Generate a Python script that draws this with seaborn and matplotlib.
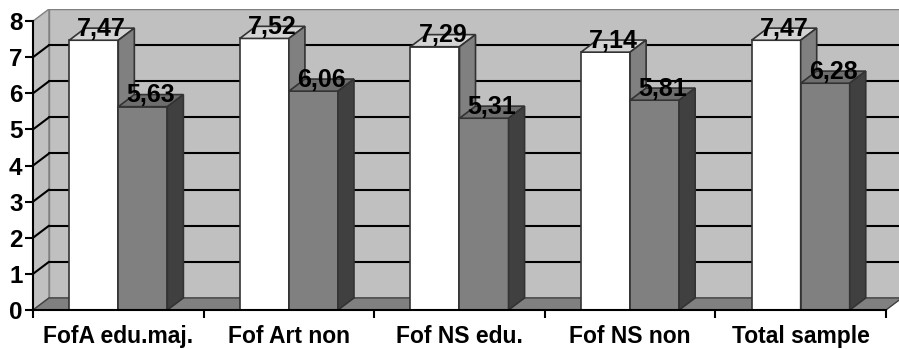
import numpy as np
import pandas as pd
import matplotlib
matplotlib.use("Agg")
import matplotlib.pyplot as plt
from matplotlib.patches import Polygon, Rectangle
import seaborn as sns

# data
groups = ["FofA edu.maj.", "Fof Art non", "Fof NS edu.", "Fof NS non", "Total sample"]
series = ["A", "B"]
values_a = [7.47, 7.52, 7.29, 7.14, 7.47]
values_b = [5.63, 6.06, 5.31, 5.81, 6.28]
yticks = [0, 1, 2, 3, 4, 5, 6, 7, 8]

df = pd.DataFrame({
    "group": groups * 2,
    "series": [series[0]] * 5 + [series[1]] * 5,
    "value": values_a + values_b,
})

sns.set_theme(style="white")
plt.rcParams["font.family"] = ["Liberation Sans", "DejaVu Sans"]
plt.rcParams["font.weight"] = "bold"
for key in ["text.color", "xtick.color", "ytick.color", "axes.labelcolor"]:
    plt.rcParams[key] = "black"

# depth offsets of the 3d look (category units / value units)
DX = 0.094
DY = 0.335
YMAX = 8

W, H = 899, 349
fig = plt.figure(figsize=(W / 100, H / 100), dpi=100)
ax = fig.add_axes([33 / W, 39 / H, 869 / W, 301 / H])
ax.set_facecolor("none")

# walls and floor
wall = "#c0c0c0"
ax.add_patch(Polygon([(-0.5, 0), (-0.5 + DX, DY), (-0.5 + DX, YMAX + DY), (-0.5, YMAX)],
                     closed=True, facecolor=wall, edgecolor="#808080", lw=1, zorder=0))
ax.add_patch(Rectangle((-0.5 + DX, DY), 5 + 0.2, YMAX, facecolor=wall,
                       edgecolor="#808080", lw=1, zorder=0))
ax.add_patch(Polygon([(-0.5, 0), (4.5, 0), (4.5 + DX, DY), (-0.5 + DX, DY)],
                     closed=True, facecolor="#808080", edgecolor="#404040", lw=1, zorder=1))
for k in yticks[1:-1]:
    ax.plot([-0.5, -0.5 + DX], [k, k + DY], color="black", lw=1.5, zorder=1.5)
    ax.plot([-0.5 + DX, 4.5 + DX + 0.2], [k + DY, k + DY], color="black", lw=1.5, zorder=1.5)
ax.plot([-0.5 + DX, 4.7 + DX], [YMAX + DY, YMAX + DY], color="#808080", lw=1.5, zorder=1.5)

n_before = len(ax.patches)
sns.barplot(data=df, x="group", y="value", hue="series", palette=["white", "#808080"],
            width=0.575, gap=0, edgecolor="#333333", linewidth=1.2, legend=False,
            errorbar=None, ax=ax)
bars = [p for p in ax.patches[n_before:] if isinstance(p, Rectangle)]

top_cols = ["#d4d4d4", "#6e6e6e"]
side_cols = ["#808080", "#404040"]
n = len(groups)
for i, bar in enumerate(bars[:2 * n]):
    s = i // n
    z = 3 + s
    bar.set_zorder(z)
    x0 = bar.get_x()
    w = bar.get_width()
    h = bar.get_height()
    ax.add_patch(Polygon([(x0, h), (x0 + DX, h + DY), (x0 + w + DX, h + DY), (x0 + w, h)],
                         closed=True, facecolor=top_cols[s], edgecolor="#333333", lw=1.2, zorder=z))
    ax.add_patch(Polygon([(x0 + w, 0), (x0 + w + DX, DY), (x0 + w + DX, h + DY), (x0 + w, h)],
                         closed=True, facecolor=side_cols[s], edgecolor="#333333", lw=1.2, zorder=z))
    ax.text(x0 + w / 2 + DX / 2, h + 0.12, f"{h:.2f}".replace(".", ","),
            ha="center", va="baseline", fontsize=18, fontweight="bold", color="black", zorder=6)

ax.set_xlim(-0.5, 4.5 + DX)
ax.set_ylim(0, YMAX + DY)

for sp in ["top", "right"]:
    ax.spines[sp].set_visible(False)
for sp in ["left", "bottom"]:
    ax.spines[sp].set_color("black")
    ax.spines[sp].set_linewidth(1.5)
    ax.spines[sp].set_zorder(7)
ax.spines["left"].set_bounds(0, YMAX)
ax.spines["bottom"].set_bounds(-0.5, 4.5)

ax.set_yticks(yticks)
ax.set_yticklabels([str(t) for t in yticks], fontsize=17.5, fontweight="bold")
ax.tick_params(axis="y", direction="out", length=6, width=1.5, color="black", pad=1.5, left=True)

ax.set_xticks(np.arange(-0.5, 5, 1.0))
ax.set_xticklabels([])
ax.set_xticks(np.arange(n), minor=True)
ax.set_xticklabels(groups, minor=True, fontsize=16.5, fontweight="bold")
ax.tick_params(axis="x", which="major", direction="out", length=6, width=1.5, color="black", bottom=True)
ax.tick_params(axis="x", which="minor", length=0, pad=10.5)
ax.set_xlabel("")
ax.set_ylabel("")

fig.savefig("out.png", dpi=100)
